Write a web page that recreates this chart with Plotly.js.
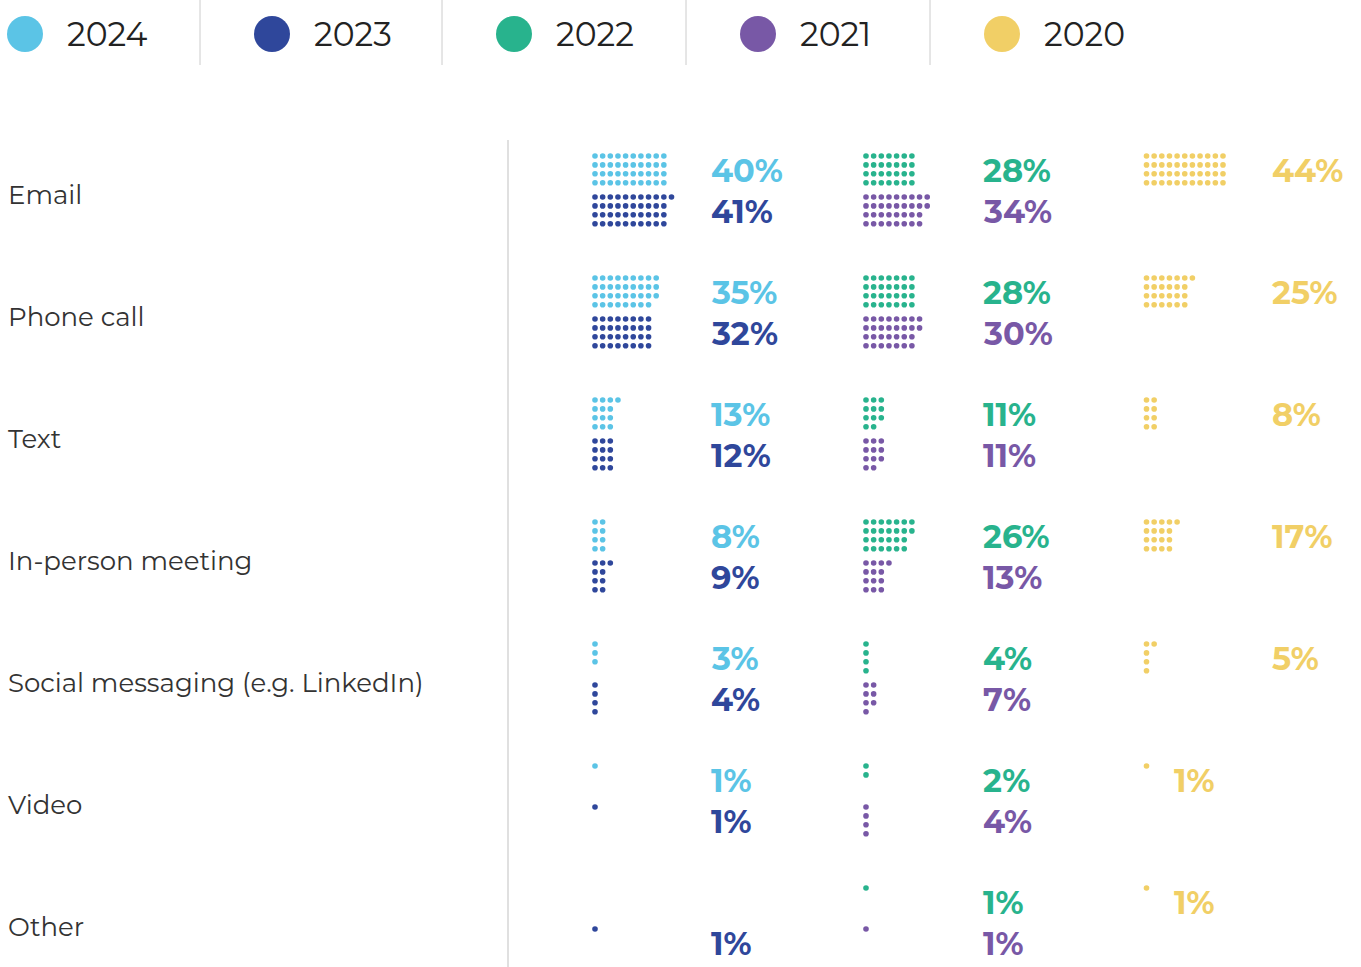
<!DOCTYPE html>
<html>
<head>
<meta charset="utf-8">
<script src="https://cdn.plot.ly/plotly-3.0.1.min.js"></script>
<style>html,body{margin:0;padding:0;background:#fff;}#chart{width:1361px;height:967px;}</style>
</head>
<body>
<div id="chart"></div>
<script>
// ---- data ----
var categories = ['Email', 'Phone call', 'Text', 'In-person meeting', 'Social messaging (e.g. LinkedIn)', 'Video', 'Other'];
var years = ['2024', '2023', '2022', '2021', '2020'];
var v2024 = [40, 35, 13, 8, 3, 1, null];
var v2023 = [41, 32, 12, 9, 4, 1, 1];
var v2022 = [28, 28, 11, 26, 4, 2, 1];
var v2021 = [34, 30, 11, 13, 7, 4, 1];
var v2020 = [44, 25, 8, 17, 5, 1, 1];

// ---- styles ----
var colors = {'2024': '#5BC4E6', '2023': '#2F479B', '2022': '#28B38D', '2021': '#7858A6', '2020': '#F1CF66'};
var series = [
  {year: '2024', values: v2024, col: 0, slot: 0},
  {year: '2023', values: v2023, col: 0, slot: 1},
  {year: '2022', values: v2022, col: 1, slot: 0},
  {year: '2021', values: v2021, col: 1, slot: 1},
  {year: '2020', values: v2020, col: 2, slot: 0}
];
var colDotX = [595, 866, 1146.5];
var colTextX = [709, 981, 1270];
var smallTextX2020 = 1172;
var rowTop0 = 156, rowStep = 122, slotStep = 41;
var dx = 7.65, dy = 8.9, rowsPerCol = 4;
var pctFont = 'Montserrat, Inter, sans-serif';
var labelFont = 'Montserrat, "Open Sans", sans-serif';

var traces = [];
var annotations = [];
var shapes = [];

series.forEach(function (s) {
  var xs = [], ys = [];
  s.values.forEach(function (v, i) {
    if (v === null || v === undefined) return;
    var top = rowTop0 + i * rowStep + s.slot * slotStep;
    for (var k = 0; k < v; k++) {
      var c = Math.floor(k / rowsPerCol), r = k % rowsPerCol;
      xs.push(colDotX[s.col] + c * dx);
      ys.push(top + r * dy);
    }
    var tx = colTextX[s.col];
    if (s.year === '2020' && v < 2) tx = smallTextX2020;
    annotations.push({
      x: tx, y: top + 14, xref: 'x', yref: 'y', xanchor: 'left', yanchor: 'middle',
      text: '<b>' + v + '%</b>', showarrow: false,
      font: {family: pctFont, size: 32, color: colors[s.year]}
    });
  });
  traces.push({
    type: 'scatter', mode: 'markers', x: xs, y: ys, name: s.year,
    marker: {size: 5.6, color: colors[s.year], line: {width: 0}},
    hoverinfo: 'skip', showlegend: false
  });
});

// category labels
categories.forEach(function (c, i) {
  annotations.push({
    x: 6, y: 195 + i * rowStep, xref: 'x', yref: 'y', xanchor: 'left', yanchor: 'middle',
    text: c, showarrow: false, font: {family: labelFont, size: 26, color: '#333333'}
  });
});

// legend
var legX = [25, 272, 514, 758, 1002];
years.forEach(function (y, i) {
  shapes.push({type: 'circle', xref: 'x', yref: 'y', x0: legX[i] - 18, x1: legX[i] + 18, y0: 16, y1: 52,
    fillcolor: colors[y], line: {width: 0}});
  annotations.push({x: legX[i] + 40, y: 34, xref: 'x', yref: 'y', xanchor: 'left', yanchor: 'middle',
    text: y, showarrow: false, font: {family: labelFont, size: 33, color: '#222222'}});
});
[200, 442, 686, 930].forEach(function (x) {
  shapes.push({type: 'line', xref: 'x', yref: 'y', x0: x, x1: x, y0: 0, y1: 65, line: {color: '#cccccc', width: 1}});
});
shapes.push({type: 'line', xref: 'x', yref: 'y', x0: 508, x1: 508, y0: 140, y1: 967, line: {color: '#cccccc', width: 1.2}});

var layout = {
  width: 1361, height: 967,
  margin: {l: 0, r: 0, t: 0, b: 0},
  paper_bgcolor: '#ffffff', plot_bgcolor: '#ffffff',
  xaxis: {range: [0, 1361], visible: false, fixedrange: true},
  yaxis: {range: [967, 0], visible: false, fixedrange: true},
  showlegend: false,
  annotations: annotations,
  shapes: shapes
};
Plotly.newPlot('chart', traces, layout, {displayModeBar: false, staticPlot: true});
</script>
</body>
</html>
